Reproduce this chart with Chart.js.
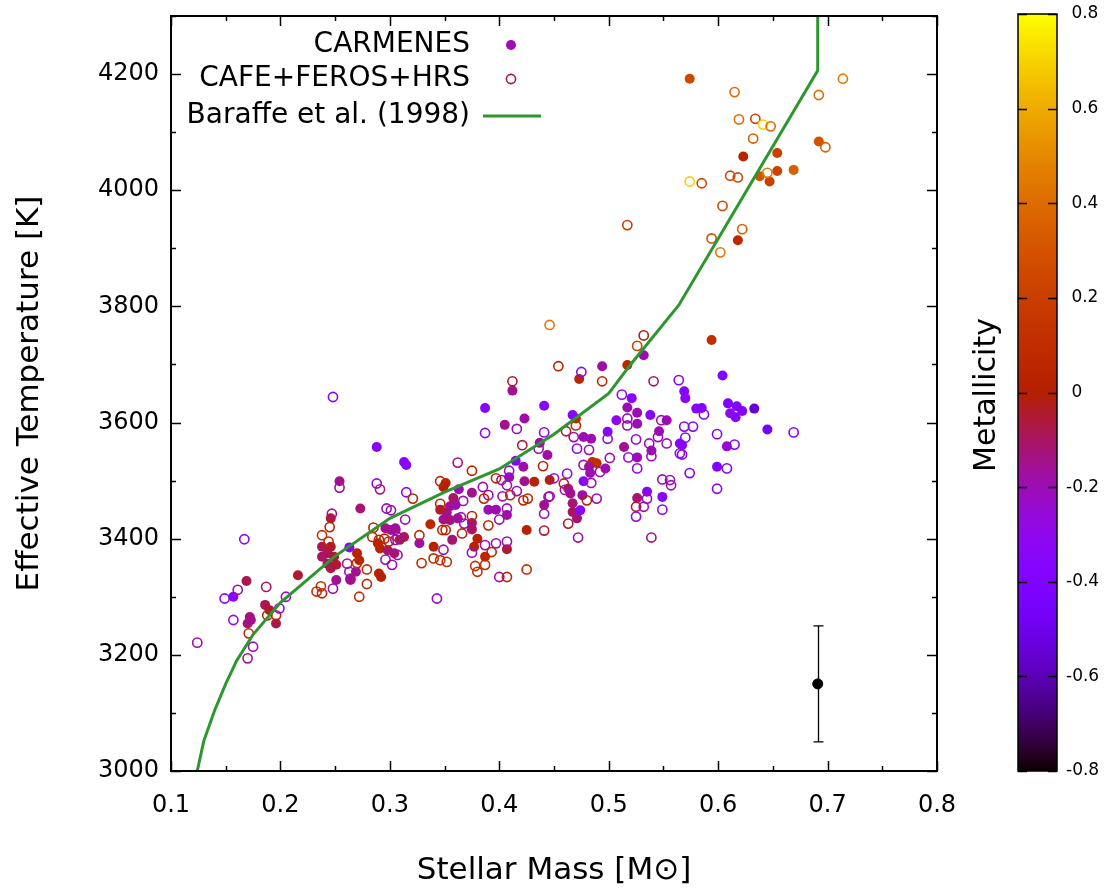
<!DOCTYPE html>
<html>
<head>
<meta charset="utf-8">
<script src="https://cdn.jsdelivr.net/npm/chart.js@4.4.1/dist/chart.umd.min.js"></script>
<style>
  html, body { margin: 0; padding: 0; background: #fff; }
  #wrap { width: 1111px; height: 890px; }
</style>
</head>
<body>
<div id="wrap"><canvas id="c" width="1111" height="890"></canvas></div>
<script>
// ---- tick labels ----
const massTicks = [0.1, 0.2, 0.3, 0.4, 0.5, 0.6, 0.7, 0.8];
const teffTicks = [3000, 3200, 3400, 3600, 3800, 4000, 4200];
const metalTicks = [-0.8, -0.6, -0.4, -0.2, 0, 0.2, 0.4, 0.6, 0.8];

// ---- CARMENES sample (filled): mass [Msun], Teff [K], [Fe/H] ----
const carmenesMass = [
  0.574,0.623,0.654,0.692,0.654,0.669,0.638,0.647,0.618,0.532,
  0.517,0.494,0.473,0.412,0.594,0.604,0.569,0.570,0.521,0.441,
  0.387,0.517,0.526,0.538,0.423,0.609,0.611,0.617,0.622,0.616,
  0.633,0.645,0.585,0.567,0.608,0.599,0.470,0.467,0.477,0.484,
  0.499,0.444,0.485,0.489,0.482,0.497,0.483,0.446,0.463,0.465,
  0.467,0.467,0.471,0.477,0.476,0.474,0.441,0.526,0.535,0.549,
  0.514,0.526,0.526,0.539,0.546,0.553,0.565,0.580,0.507,0.405,
  0.313,0.315,0.415,0.422,0.437,0.409,0.423,0.432,0.351,0.349,
  0.363,0.375,0.355,0.360,0.390,0.397,0.407,0.349,0.355,0.362,
  0.375,0.375,0.380,0.377,0.387,0.357,0.337,0.327,0.340,0.309,
  0.313,0.407,0.425,0.288,0.254,0.273,0.246,0.238,0.243,0.246,
  0.249,0.238,0.243,0.246,0.251,0.263,0.270,0.272,0.269,0.264,
  0.251,0.216,0.169,0.157,0.289,0.291,0.296,0.301,0.305,0.298,
  0.304,0.290,0.292,0.172,0.170,0.173,0.186,0.190,0.196,0.352,
  0.346,0.358
];
const carmenesTeff = [
  4192,4058,4064,4084,4033,4035,4024,4015,3914,3716,
  3699,3697,3675,3655,3742,3681,3654,3642,3642,3629,
  3625,3626,3617,3613,3607,3633,3616,3628,3620,3609,
  3624,3588,3625,3561,3559,3524,3607,3613,3575,3572,
  3584,3544,3532,3530,3524,3521,3513,3501,3486,3478,
  3461,3446,3435,3499,3475,3449,3458,3470,3481,3472,
  3558,3540,3598,3552,3585,3604,3564,3624,3604,3596,
  3532,3527,3534,3524,3565,3506,3499,3498,3496,3489,
  3485,3479,3456,3458,3450,3450,3441,3433,3432,3435,
  3427,3416,3400,3386,3369,3398,3425,3392,3386,3398,
  3403,3382,3415,3558,3499,3452,3435,3386,3375,3386,
  3369,3369,3357,3349,3355,3385,3375,3363,3343,3329,
  3329,3337,3327,3300,3392,3383,3418,3415,3418,3380,
  3375,3340,3334,3265,3254,3260,3286,3277,3254,3445,
  3450,3470
];
const carmenesFeH = [
  0.25,0.02,0.2,0.3,0.22,0.35,0.3,0.2,0.08,-0.2,
  0.05,-0.18,0.05,-0.15,0.1,-0.4,-0.35,-0.35,-0.35,-0.35,
  -0.35,-0.2,-0.2,-0.35,-0.18,-0.4,-0.3,-0.38,-0.38,-0.38,
  -0.55,-0.45,-0.38,-0.35,-0.25,-0.4,0.08,-0.35,-0.2,-0.2,
  -0.35,-0.18,0.1,0.1,-0.15,-0.2,-0.2,0.0,-0.15,-0.15,
  -0.12,-0.1,-0.12,-0.35,-0.18,-0.35,-0.15,-0.12,-0.35,-0.35,
  -0.15,-0.2,-0.2,-0.2,-0.2,-0.2,-0.35,-0.35,-0.3,-0.15,
  -0.35,-0.35,-0.35,-0.18,-0.18,-0.2,-0.15,0.02,0.02,0.0,
  -0.2,-0.15,-0.15,-0.2,-0.2,-0.2,-0.18,-0.15,-0.12,-0.15,
  -0.12,-0.1,0.02,0.02,0.05,-0.12,0.05,-0.18,0.02,-0.05,
  -0.08,-0.05,0.02,-0.35,-0.15,-0.12,-0.05,-0.08,-0.1,-0.05,
  -0.05,-0.1,-0.1,-0.08,-0.05,-0.35,0.03,0.03,-0.15,-0.15,
  -0.15,-0.05,-0.08,-0.35,0.03,0.03,-0.15,-0.15,-0.15,-0.12,
  -0.1,0.02,0.0,-0.12,-0.12,-0.15,-0.08,-0.05,-0.08,-0.15,
  -0.05,-0.1
];

// ---- CAFE + FEROS + HRS sample (open) ----
const otherMass = [
  0.615,0.619,0.634,0.641,0.648,0.632,0.698,0.692,0.714,0.645,
  0.611,0.618,0.574,0.585,0.604,0.517,0.622,0.594,0.602,0.446,
  0.532,0.526,0.454,0.475,0.494,0.412,0.541,0.564,0.512,0.248,
  0.587,0.569,0.577,0.599,0.570,0.567,0.615,0.669,0.608,0.574,
  0.599,0.470,0.461,0.468,0.471,0.482,0.499,0.440,0.477,0.492,
  0.501,0.462,0.450,0.484,0.459,0.460,0.480,0.489,0.445,0.441,
  0.463,0.441,0.472,0.539,0.525,0.535,0.532,0.549,0.525,0.549,
  0.556,0.557,0.518,0.526,0.525,0.517,0.517,0.537,0.539,0.548,
  0.545,0.553,0.565,0.387,0.416,0.441,0.362,0.375,0.421,0.436,
  0.409,0.402,0.407,0.397,0.346,0.315,0.321,0.385,0.390,0.386,
  0.403,0.410,0.416,0.422,0.426,0.446,0.346,0.367,0.407,0.400,
  0.365,0.368,0.375,0.390,0.348,0.351,0.366,0.327,0.305,0.307,
  0.314,0.301,0.349,0.340,0.346,0.352,0.329,0.375,0.387,0.397,
  0.407,0.378,0.380,0.387,0.393,0.400,0.407,0.425,0.343,0.254,
  0.288,0.291,0.247,0.245,0.238,0.167,0.285,0.297,0.244,0.261,
  0.270,0.279,0.263,0.264,0.279,0.272,0.248,0.237,0.233,0.238,
  0.205,0.187,0.161,0.284,0.290,0.295,0.299,0.305,0.307,0.302,
  0.296,0.149,0.157,0.171,0.188,0.196,0.199,0.175,0.170,0.124
];
const otherTeff = [
  4169,4122,4123,4113,4110,4089,4074,4164,4192,4030,
  4025,4022,4015,4012,3973,3940,3933,3917,3893,3768,
  3750,3732,3697,3687,3671,3671,3671,3673,3648,3644,
  3614,3593,3593,3580,3574,3545,3562,3583,3521,3513,
  3486,3595,3585,3575,3555,3553,3572,3525,3527,3515,
  3539,3512,3504,3496,3495,3484,3466,3469,3472,3443,
  3426,3414,3402,3402,3455,3469,3455,3450,3438,3502,
  3501,3492,3540,3521,3571,3607,3595,3564,3542,3604,
  3575,3564,3547,3582,3589,3583,3531,3517,3561,3555,
  3517,3501,3492,3504,3499,3480,3469,3489,3475,3469,
  3473,3475,3482,3466,3469,3473,3460,3465,3452,3433,
  3437,3426,3439,3423,3415,3415,3409,3406,3415,3403,
  3433,3449,3381,3366,3363,3360,3358,3376,3389,3392,
  3395,3353,3343,3355,3377,3334,3334,3347,3297,3488,
  3495,3485,3443,3420,3406,3399,3419,3452,3395,3357,
  3358,3347,3343,3331,3322,3300,3314,3318,3309,3306,
  3300,3317,3312,3403,3398,3400,3395,3398,3372,3355,
  3364,3297,3260,3237,3268,3268,3280,3214,3194,3221
];
const otherFeH = [
  0.4,0.4,0.2,0.7,0.4,0.35,0.35,0.4,0.45,0.45,
  0.25,0.25,0.7,0.25,0.25,0.2,0.35,0.3,0.45,0.45,
  0.0,0.2,0.0,-0.35,0.05,-0.05,-0.1,-0.35,-0.3,-0.35,
  -0.35,-0.35,-0.35,-0.35,-0.35,-0.35,-0.35,-0.35,-0.35,-0.35,
  -0.35,0.1,-0.05,-0.2,-0.3,-0.2,-0.3,0.05,-0.2,-0.2,
  -0.2,-0.3,-0.2,-0.2,0.02,-0.2,0.0,-0.2,-0.2,-0.2,
  -0.05,-0.05,-0.2,-0.15,-0.05,-0.2,-0.2,-0.3,-0.3,-0.2,
  -0.2,-0.2,-0.3,-0.3,-0.25,-0.2,-0.2,-0.2,-0.2,-0.2,
  -0.2,-0.2,-0.3,-0.3,-0.2,-0.3,-0.15,0.05,-0.05,-0.2,
  -0.3,-0.2,-0.2,0.05,0.05,-0.3,0.05,-0.2,-0.2,0.05,
  -0.2,0.05,-0.2,0.05,0.05,-0.2,0.05,-0.2,-0.2,-0.2,
  -0.2,-0.2,0.05,0.05,0.05,0.05,0.05,0.05,-0.2,-0.2,
  -0.2,-0.2,-0.2,0.1,0.1,0.1,0.1,-0.2,-0.2,-0.2,
  -0.2,0.1,0.1,0.1,0.05,-0.2,0.05,0.1,-0.25,-0.15,
  -0.3,-0.15,-0.15,0.05,0.1,-0.3,0.05,-0.2,0.05,-0.15,
  0.1,0.1,-0.2,-0.15,0.1,0.1,-0.2,0.1,0.1,0.05,
  -0.25,-0.1,-0.2,0.05,0.05,0.05,0.05,-0.2,-0.2,-0.2,
  -0.2,-0.35,-0.3,0.1,0.05,0.05,-0.3,-0.2,-0.15,-0.2
];

// ---- Baraffe et al. (1998) isochrone ----
const baraffeMass = [0.124, 0.13, 0.14, 0.15, 0.16, 0.175, 0.2, 0.25, 0.3, 0.35, 0.4, 0.45, 0.5, 0.52, 0.564, 0.691, 0.691];
const baraffeTeff = [3000, 3052, 3105, 3150, 3190, 3235, 3290, 3370, 3435, 3480, 3520, 3580, 3650, 3700, 3802, 4206, 4400];

// ---- typical uncertainty ----
const errMass = [0.691];
const errTeff = [3150];
const errSigma = [100];

const FONT = "'DejaVu Sans', 'Noto Sans', sans-serif";
const CB_MIN = -0.8, CB_MAX = 0.8;

// gnuplot default palette (rgbformulae 7,5,15)
function palette(z) {
  let g = (z - CB_MIN) / (CB_MAX - CB_MIN);
  g = Math.min(1, Math.max(0, g));
  const r = Math.sqrt(g);
  const gr = g * g * g;
  const b = Math.max(0, Math.sin(2 * Math.PI * g));
  return 'rgb(' + Math.round(r * 255) + ',' + Math.round(gr * 255) + ',' + Math.round(b * 255) + ')';
}

const toPoints = (xs, ys) => xs.map((v, i) => ({ x: v, y: ys[i] }));

// inward ticks on all four sides plus the frame
const frameTicks = {
  id: 'frameTicks',
  afterDatasetsDraw(chart) {
    const { ctx, chartArea: a, scales: { x, y } } = chart;
    ctx.save();
    ctx.strokeStyle = '#000';
    ctx.lineWidth = 1.5;
    ctx.beginPath();
    const majorLen = 10, minorLen = 5;
    const xMarks = [];
    massTicks.forEach((v, i) => {
      xMarks.push([v, majorLen]);
      if (i < massTicks.length - 1) xMarks.push([(v + massTicks[i + 1]) / 2, minorLen]);
    });
    xMarks.forEach(([v, len]) => {
      const p = Math.round(x.getPixelForValue(v)) + 0.5;
      ctx.moveTo(p, a.bottom); ctx.lineTo(p, a.bottom - len);
      ctx.moveTo(p, a.top); ctx.lineTo(p, a.top + len);
    });
    const yMarks = [];
    teffTicks.forEach((v, i) => {
      yMarks.push([v, majorLen]);
      const next = i < teffTicks.length - 1 ? teffTicks[i + 1] : v + 200;
      yMarks.push([(v + next) / 2, minorLen]);
    });
    yMarks.forEach(([v, len]) => {
      const p = Math.round(y.getPixelForValue(v)) + 0.5;
      ctx.moveTo(a.left, p); ctx.lineTo(a.left + len, p);
      ctx.moveTo(a.right, p); ctx.lineTo(a.right - len, p);
    });
    ctx.stroke();
    ctx.lineWidth = 2;
    ctx.strokeRect(a.left, a.top, a.right - a.left, a.bottom - a.top);
    ctx.restore();
  }
};

// vertical error bar with caps
const errorBars = {
  id: 'errorBars',
  afterDatasetsDraw(chart) {
    const { ctx, scales: { x, y } } = chart;
    ctx.save();
    ctx.strokeStyle = '#000';
    ctx.lineWidth = 1.3;
    errMass.forEach((m, i) => {
      const px = Math.round(x.getPixelForValue(m)) + 0.5;
      const lo = y.getPixelForValue(errTeff[i] - errSigma[i]);
      const hi = y.getPixelForValue(errTeff[i] + errSigma[i]);
      ctx.beginPath();
      ctx.moveTo(px, lo); ctx.lineTo(px, hi);
      ctx.moveTo(px - 5, lo); ctx.lineTo(px + 5, lo);
      ctx.moveTo(px - 5, hi); ctx.lineTo(px + 5, hi);
      ctx.stroke();
    });
    ctx.restore();
  }
};

// key in the upper left: right-justified text, sample to the right
const keyBox = {
  id: 'keyBox',
  afterDraw(chart) {
    const { ctx } = chart;
    const ds = chart.data.datasets;
    const textRight = 470, sampleX = 511;
    const rows = [45, 79, 116];
    ctx.save();
    ctx.font = '28px ' + FONT;
    ctx.fillStyle = '#000';
    ctx.textAlign = 'right';
    ctx.textBaseline = 'middle';
    [0, 1, 2].forEach((k) => {
      ctx.fillText(ds[k].label, textRight, rows[k]);
    });
    ctx.beginPath();
    ctx.arc(sampleX, rows[0], 5, 0, Math.PI * 2);
    ctx.fillStyle = palette(-0.2);
    ctx.fill();
    ctx.beginPath();
    ctx.arc(sampleX, rows[1], 4.6, 0, Math.PI * 2);
    ctx.strokeStyle = palette(-0.06);
    ctx.lineWidth = 1.6;
    ctx.stroke();
    ctx.beginPath();
    ctx.moveTo(483, rows[2]); ctx.lineTo(541, rows[2]);
    ctx.strokeStyle = ds[2].borderColor;
    ctx.lineWidth = 3;
    ctx.stroke();
    ctx.restore();
  }
};

// metallicity colour bar on the right
const colourBar = {
  id: 'colourBar',
  afterDraw(chart) {
    const { ctx } = chart;
    const L = 1018, R = 1057, T = 14, B = 771;
    const pos = (v) => B - (v - CB_MIN) / (CB_MAX - CB_MIN) * (B - T);
    ctx.save();
    for (let py = T; py < B; py++) {
      const v = CB_MIN + (B - py - 0.5) / (B - T) * (CB_MAX - CB_MIN);
      ctx.fillStyle = palette(v);
      ctx.fillRect(L, py, R - L, 1);
    }
    ctx.strokeStyle = '#000';
    ctx.lineWidth = 1.5;
    ctx.strokeRect(L, T, R - L, B - T);
    ctx.beginPath();
    metalTicks.forEach((v) => {
      const p = Math.round(pos(v)) + 0.5;
      ctx.moveTo(L, p); ctx.lineTo(L + 9, p);
      ctx.moveTo(R, p); ctx.lineTo(R - 9, p);
    });
    ctx.stroke();
    ctx.fillStyle = '#000';
    ctx.font = '17px ' + FONT;
    ctx.textAlign = 'left';
    ctx.textBaseline = 'middle';
    metalTicks.forEach((v) => {
      const s = v === 0 ? ' 0' : (v > 0 ? ' ' + v.toFixed(1) : v.toFixed(1));
      ctx.fillText(s, 1066, pos(v));
    });
    ctx.translate(987, 395);
    ctx.rotate(-Math.PI / 2);
    ctx.textAlign = 'center';
    ctx.font = '30px ' + FONT;
    ctx.fillText('Metallicity', 0, 0);
    ctx.restore();
  }
};

new Chart(document.getElementById('c'), {
  type: 'scatter',
  data: {
    datasets: [
      {
        label: 'CARMENES',
        data: toPoints(carmenesMass, carmenesTeff),
        pointRadius: 5,
        pointBorderWidth: 0,
        pointBackgroundColor: carmenesFeH.map(palette),
        pointBorderColor: carmenesFeH.map(palette),
        order: 2
      },
      {
        label: 'CAFE+FEROS+HRS',
        data: toPoints(otherMass, otherTeff),
        pointRadius: 4.6,
        pointBorderWidth: 1.6,
        pointBackgroundColor: 'rgba(0,0,0,0)',
        pointBorderColor: otherFeH.map(palette),
        order: 1
      },
      {
        label: 'Baraffe et al. (1998)',
        type: 'line',
        data: toPoints(baraffeMass, baraffeTeff),
        borderColor: '#2e962e',
        borderWidth: 3,
        pointRadius: 0,
        tension: 0,
        fill: false,
        order: 0
      },
      {
        label: 'error',
        data: toPoints(errMass, errTeff),
        pointRadius: 5,
        pointBackgroundColor: '#000',
        pointBorderColor: '#000',
        order: 0
      }
    ]
  },
  options: {
    responsive: false,
    animation: false,
    events: [],
    layout: { padding: { top: 16, right: 174, left: 0, bottom: 0 } },
    plugins: { legend: { display: false }, tooltip: { enabled: false } },
    scales: {
      x: {
        type: 'linear',
        min: 0.1, max: 0.8,
        afterBuildTicks: (s) => { s.ticks = massTicks.map((v) => ({ value: v })); },
        afterFit: (s) => { s.height = 119; s.paddingLeft = 0; s.paddingRight = 0; },
        grid: { display: false, drawTicks: false },
        border: { display: false },
        ticks: {
          padding: 20, color: '#000',
          font: { family: FONT, size: 24, lineHeight: 1.2 },
          callback: (v) => Number(v).toFixed(1)
        },
        title: {
          display: true, text: 'Stellar Mass [M\u2299]', color: '#000',
          font: { family: FONT, size: 31, lineHeight: 1.2 },
          padding: { top: 0, bottom: 0 }
        }
      },
      y: {
        type: 'linear',
        min: 3000, max: 4300,
        afterBuildTicks: (s) => { s.ticks = teffTicks.map((v) => ({ value: v })); },
        afterFit: (s) => { s.width = 171; s.paddingTop = 0; s.paddingBottom = 0; },
        grid: { display: false, drawTicks: false },
        border: { display: false },
        ticks: {
          padding: 12, color: '#000',
          font: { family: FONT, size: 24, lineHeight: 1.2 },
          callback: (v) => String(v)
        },
        title: {
          display: true, text: 'Effective Temperature [K]', color: '#000',
          font: { family: FONT, size: 31, lineHeight: 1.2 },
          padding: { top: 11, bottom: 0 }
        }
      }
    }
  },
  plugins: [frameTicks, errorBars, keyBox, colourBar]
});
</script>
</body>
</html>
